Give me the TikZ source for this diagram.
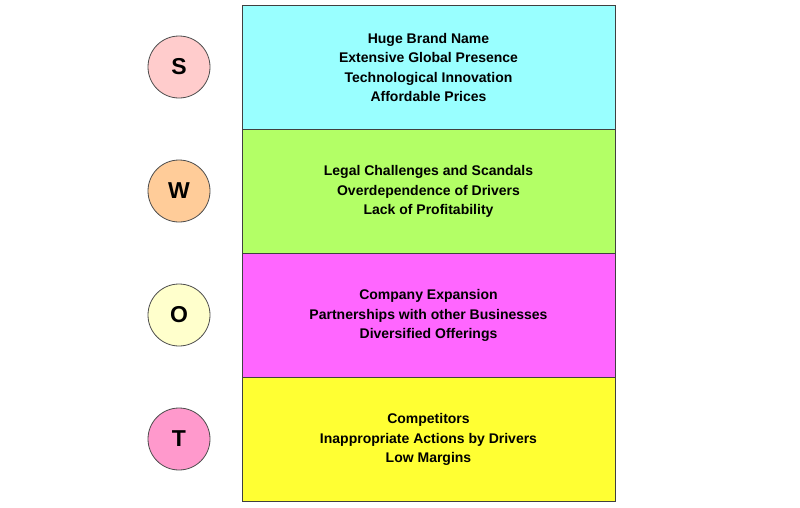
\documentclass[tikz,border=0pt]{standalone}
\usepackage{fontspec}
\setmainfont{Liberation Sans}
\usepackage{xcolor}
\usepackage{tikz}

\definecolor{scol}{HTML}{99FFFF}
\definecolor{wcol}{HTML}{B3FF66}
\definecolor{ocol}{HTML}{FF66FF}
\definecolor{tcol}{HTML}{FFFF33}
\definecolor{sball}{HTML}{FFCCCC}
\definecolor{wball}{HTML}{FFCC99}
\definecolor{oball}{HTML}{FFFFCC}
\definecolor{tball}{HTML}{FF99CC}

\begin{document}
\begin{tikzpicture}[x=1pt,y=-1pt,
  band/.style={draw=black!75,line width=0.8pt,minimum width=373pt,minimum height=124pt,
    align=center,font=\fontsize{14}{19.3}\selectfont\bfseries,inner sep=0pt},
  ball/.style={circle,draw=black!70,line width=0.8pt,minimum size=62pt,inner sep=0pt,
    font=\fontsize{23}{23}\selectfont\bfseries}]
\useasboundingbox (0,0) rectangle (800,507);

\node[band,fill=scol] (s) at (428.5,67.5) {Huge Brand Name\\Extensive Global Presence\\Technological Innovation\\Affordable Prices};
\node[band,fill=wcol] (w) at (428.5,191.5) {Legal Challenges and Scandals\\Overdependence of Drivers\\Lack of Profitability};
\node[band,fill=ocol] (o) at (428.5,315.5) {Company Expansion\\Partnerships with other Businesses\\Diversified Offerings};
\node[band,fill=tcol] (t) at (428.5,439.5) {Competitors\\Inappropriate Actions by Drivers\\Low Margins};

\node[ball,fill=sball] (sb) at (179,67) {S};
\node[ball,fill=wball] (wb) at (179,191) {W};
\node[ball,fill=oball] (ob) at (179,315) {O};
\node[ball,fill=tball] (tb) at (179,439) {T};
\end{tikzpicture}
\end{document}
